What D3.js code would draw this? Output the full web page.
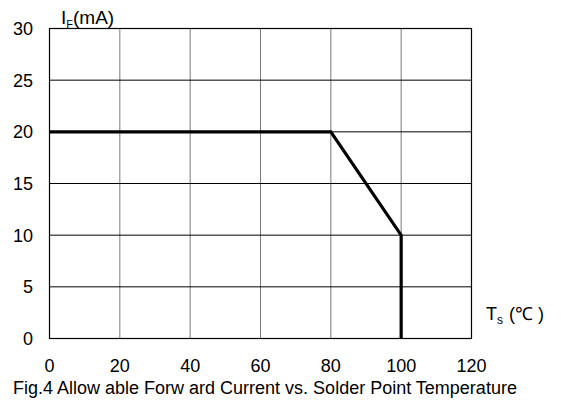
<!DOCTYPE html>
<html>
<head>
<meta charset="utf-8">
<script src="https://cdn.jsdelivr.net/npm/d3@7"></script>
<style>
  body { margin: 0; background: #fff; }
  text { font-family: "Liberation Sans", Arial, sans-serif; fill: #000; }
</style>
</head>
<body>
<svg id="chart" width="566" height="402"></svg>
<script>
// derating curve
var tempValues = [0, 80, 100, 100];
var currentValues = [20, 20, 10, 0];
var xTicks = [0, 20, 40, 60, 80, 100, 120];
var yTicks = [0, 5, 10, 15, 20, 25, 30];

var svg = d3.select("#chart");

var x = d3.scaleLinear().domain([0, 120]).range([49.5, 471.5]);
var y = d3.scaleLinear().domain([0, 30]).range([338.5, 28.5]);

// vertical grid (grey)
svg.selectAll(".vgrid")
    .data(xTicks.slice(1, -1))
    .enter().append("line")
    .attr("x1", function (d) { return x(d); })
    .attr("x2", function (d) { return x(d); })
    .attr("y1", y(30))
    .attr("y2", y(0))
    .attr("stroke", "#7a7a7a")
    .attr("stroke-width", 1);

// horizontal grid (black)
svg.selectAll(".hgrid")
    .data(yTicks)
    .enter().append("line")
    .attr("x1", x(0))
    .attr("x2", x(120))
    .attr("y1", function (d) { return y(d); })
    .attr("y2", function (d) { return y(d); })
    .attr("stroke", "#000")
    .attr("stroke-width", 1);

// frame
svg.append("rect")
    .attr("x", x(0))
    .attr("y", y(30))
    .attr("width", x(120) - x(0))
    .attr("height", y(0) - y(30))
    .attr("fill", "none")
    .attr("stroke", "#000")
    .attr("stroke-width", 1.2);

// curve
var line = d3.line()
    .x(function (d) { return x(d[0]); })
    .y(function (d) { return y(d[1]); });

svg.append("path")
    .datum(d3.zip(tempValues, currentValues))
    .attr("d", line)
    .attr("fill", "none")
    .attr("stroke", "#000")
    .attr("stroke-width", 3.2)
    .attr("stroke-linejoin", "miter");

// y tick labels
svg.selectAll(".ylab")
    .data(yTicks)
    .enter().append("text")
    .attr("x", 33)
    .attr("y", function (d) { return y(d); })
    .attr("dy", "0.36em")
    .attr("text-anchor", "end")
    .style("font-size", "18px")
    .text(function (d) { return d; });

// x tick labels
svg.selectAll(".xlab")
    .data(xTicks)
    .enter().append("text")
    .attr("x", function (d) { return x(d); })
    .attr("y", 372)
    .attr("text-anchor", "middle")
    .style("font-size", "18px")
    .text(function (d) { return d; });

// axis titles
var yt = svg.append("text")
    .attr("x", 61)
    .attr("y", 24)
    .style("font-size", "19px");
yt.append("tspan").text("I");
yt.append("tspan").attr("dx", 0).attr("dy", 4).style("font-size", "11px").text("F");
yt.append("tspan").attr("dy", -4).text("(mA)");

var xt = svg.append("text")
    .attr("x", 486)
    .attr("y", 320)
    .style("font-size", "18px");
xt.append("tspan").text("T");
xt.append("tspan").attr("dy", 4).style("font-size", "12px").text("s");
xt.append("tspan").attr("dy", -4).attr("dx", 6).text("(\u2103 )");

// caption
svg.append("text")
    .attr("x", 13)
    .attr("y", 394)
    .style("font-size", "18px")
    .text("Fig.4 Allow able Forw ard Current vs. Solder Point Temperature");
</script>
</body>
</html>
